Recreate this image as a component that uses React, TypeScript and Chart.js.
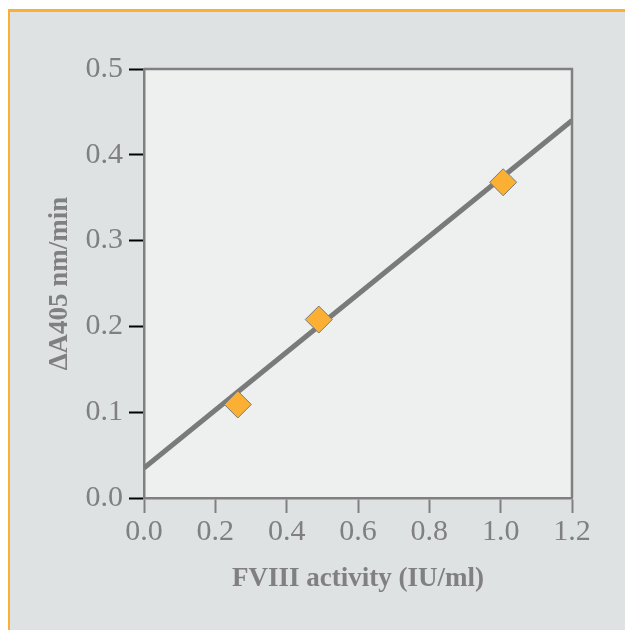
import React, { useEffect, useRef } from "react";
import { Chart, registerables } from "chart.js";

Chart.register(...registerables);

const measuredX = [0.263, 0.49, 1.007];
const measuredY = [0.109, 0.208, 0.368];
const fitX = [0, 1.2];
const fitY = [0.035, 0.44];
const xTitle = "FVIII activity (IU/ml)";
const yTitle = "ΔA405 nm/min";

const SERIF = "'Liberation Serif', 'Times New Roman', serif";
const GRAY = "#808080";

const plotBox = {
  id: "plotBox",
  beforeDraw(chart: any) {
    const { ctx, chartArea: a } = chart;
    ctx.save();
    ctx.fillStyle = "#eef0ef";
    ctx.fillRect(a.left, a.top, a.right - a.left, a.bottom - a.top);
    ctx.restore();
  },
  afterDraw(chart: any) {
    const { ctx, chartArea: a } = chart;
    ctx.save();
    ctx.strokeStyle = GRAY;
    ctx.lineWidth = 2.5;
    ctx.beginPath();
    ctx.moveTo(a.left, a.top);
    ctx.lineTo(a.right, a.top);
    ctx.lineTo(a.right, a.bottom);
    ctx.stroke();
    ctx.restore();
  },
};

export default function App() {
  const ref = useRef<HTMLCanvasElement>(null);
  useEffect(() => {
    if (!ref.current) return;
    const chart = new Chart(ref.current, {
      type: "scatter",
      data: {
        datasets: [
          {
            type: "scatter",
            data: measuredX.map((x, i) => ({ x, y: measuredY[i] })),
            pointStyle: "rectRot",
            pointRadius: 13.5,
            pointHoverRadius: 13.5,
            backgroundColor: "#fbb034",
            borderColor: "#7a7a7a",
            borderWidth: 1,
            order: 0,
          },
          {
            type: "line",
            data: fitX.map((x, i) => ({ x, y: fitY[i] })),
            borderColor: "#7a7a7a",
            borderWidth: 5,
            pointRadius: 0,
            fill: false,
            order: 1,
          } as any,
        ],
      },
      options: {
        animation: false,
        responsive: false,
        maintainAspectRatio: false,
        layout: { padding: { top: 57, right: 53, left: 0, bottom: 0 } },
        plugins: { legend: { display: false }, tooltip: { enabled: false } },
        scales: {
          x: {
            type: "linear",
            min: 0,
            max: 1.2,
            afterFit(scale: any) {
              scale.height = 132;
            },
            ticks: {
              stepSize: 0.2,
              color: GRAY,
              padding: 1,
              font: { family: SERIF, size: 30 },
              callback: (v: any) => Number(v).toFixed(1),
            },
            grid: {
              drawOnChartArea: false,
              drawTicks: true,
              tickLength: 15,
              tickColor: GRAY,
              tickWidth: 2,
            },
            border: { display: true, color: GRAY, width: 2.5 },
            title: {
              display: true,
              text: xTitle,
              color: GRAY,
              font: { family: SERIF, size: 27, weight: "bold" },
              padding: { top: 0, bottom: 35 },
            },
          },
          y: {
            type: "linear",
            min: 0,
            max: 0.5,
            afterFit(scale: any) {
              scale.width = 134;
            },
            ticks: {
              stepSize: 0.1,
              color: GRAY,
              padding: 6,
              font: { family: SERIF, size: 30 },
              callback: (v: any) => Number(v).toFixed(1),
            },
            grid: {
              drawOnChartArea: false,
              drawTicks: true,
              tickLength: 15,
              tickColor: "#000000",
              tickWidth: 2,
            },
            border: { display: true, color: GRAY, width: 2.5 },
            title: {
              display: true,
              text: yTitle,
              color: GRAY,
              font: { family: SERIF, size: 27, weight: "bold" },
              padding: { top: 34, bottom: 0 },
            },
          },
        },
      } as any,
      plugins: [plotBox],
    });
    return () => chart.destroy();
  }, []);

  return (
    <div
      style={{
        position: "absolute",
        left: 8,
        top: 9,
        width: 615,
        height: 618,
        background: "#dfe2e3",
        borderTop: "3px solid #fbb034",
        borderLeft: "2px solid #fbb034",
      }}
    >
      <canvas ref={ref} width={615} height={618} style={{ display: "block", width: 615, height: 618 }} />
    </div>
  );
}
